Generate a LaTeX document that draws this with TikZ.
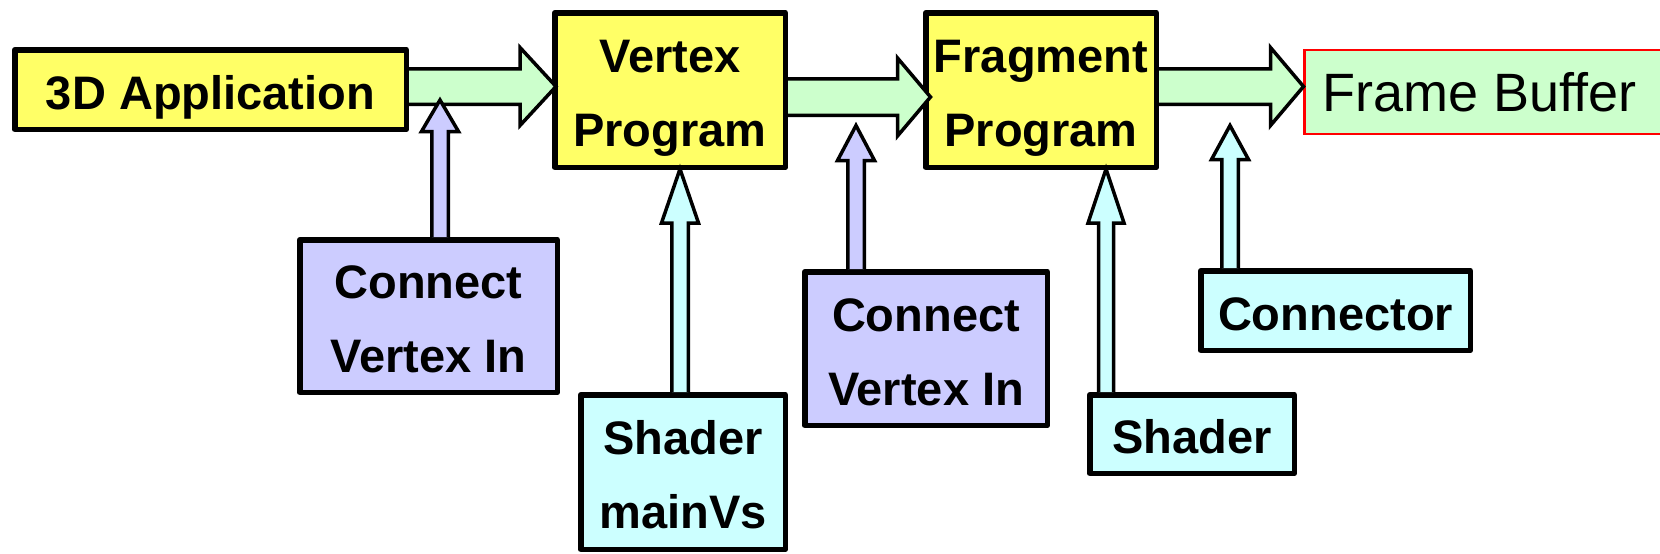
\documentclass[tikz,border=0pt]{standalone}
\usepackage{fontspec}
\setmainfont{Liberation Sans}
\usetikzlibrary{calc}

\definecolor{boxyellow}{HTML}{FFFF66}
\definecolor{boxlav}{HTML}{CCCCFF}
\definecolor{boxcyan}{HTML}{CCFFFF}
\definecolor{flowgreen}{HTML}{CCFFCC}

% invisible strut so that every label line has the same height and depth
\newcommand\lstrut{\rule[-11pt]{0pt}{61pt}}

% horizontal block arrow: colour, from, to, centre y, shaft half-width, head half-width, head length
\newcommand\hflow[7]{%
  \draw[blockarrow=#1] let \p1=(#2), \p2=(#3), \p3=(0,#4) in
    (\x1,\y3+#5) -- (\x2-#7,\y3+#5) -- (\x2-#7,\y3+#6) -- (\x2,\y3)
    -- (\x2-#7,\y3-#6) -- (\x2-#7,\y3-#5) -- (\x1,\y3-#5);}

% upward block arrow: colour, from, to, centre x, shaft half-width, head half-width, head length
\newcommand\vflow[7]{%
  \draw[blockarrow=#1] let \p1=(#2), \p2=(#3), \p3=(#4,0) in
    (\x3-#5,\y1) -- (\x3-#5,\y2-#7) -- (\x3-#6,\y2-#7) -- (\x3,\y2)
    -- (\x3+#6,\y2-#7) -- (\x3+#5,\y2-#7) -- (\x3+#5,\y1);}

\begin{document}
\begin{tikzpicture}[x=1pt,y=-1pt,
  box/.style={draw=black, line width=5.5pt, line join=round, inner sep=0pt,
    align=center, font=\fontsize{47}{74}\selectfont\bfseries},
  blockarrow/.style={draw=black, line width=3.5pt, fill=#1}]
\useasboundingbox (0,0) rectangle (1660,554);
\clip (0,0) rectangle (1660,554);
\fill[white] (0,0) rectangle (1660,554);

% pipeline stages
\node[box, fill=boxyellow, minimum width=391.5, minimum height=79.5] (app) at (210.5,89.5) {\lstrut 3D Application};
\node[box, fill=boxyellow, minimum width=230.5, minimum height=154.5] (vp) at (670,90) {\lstrut Vertex\\\lstrut Program};
\node[box, fill=boxyellow, minimum width=230.5, minimum height=154.5] (fp) at (1041,90) {\lstrut Fragment\\\lstrut Program};
\node[draw=red, line width=2.5pt, fill=flowgreen, anchor=west, minimum height=84, inner xsep=18, inner ysep=0,
  font=\fontsize{54}{64}\selectfont] (fb) at (1303,92) {\makebox[340pt][l]{Frame Buffer}};

% inputs below the pipeline
\node[box, fill=boxlav, minimum width=257.5, minimum height=152.5] (cvi1) at (428.5,316) {\lstrut Connect\\\lstrut Vertex In};
\node[box, fill=boxcyan, minimum width=204.5, minimum height=154.5] (svs) at (683,472) {\lstrut Shader\\\lstrut mainVs};
\node[box, fill=boxlav, minimum width=242.5, minimum height=153.5] (cvi2) at (926,348.5) {\lstrut Connect\\\lstrut Vertex In};
\node[box, fill=boxcyan, minimum width=204.5, minimum height=78.5] (sh) at (1192,434) {\lstrut Shader};
\node[box, fill=boxcyan, minimum width=269.5, minimum height=79.5] (con) at (1335.5,310.5) {\lstrut Connector};

% data flow along the pipeline
\hflow{flowgreen}{app.east}{$(vp.west)+(4,0)$}{86.5}{17.75pt}{39pt}{36pt}
\hflow{flowgreen}{vp.east}{$(fp.west)+(7.5,0)$}{97}{18.25pt}{39pt}{33pt}
\hflow{flowgreen}{fp.east}{$(fb.west)+(0.5,0)$}{86.5}{17.75pt}{39pt}{33pt}

% bindings feeding the stages
\coordinate (t1) at (440,100);
\coordinate (t3) at (856,125.5);
\coordinate (t5) at (1230,125.5);
\vflow{boxlav}{cvi1.north}{t1}{440}{8.25pt}{18.5pt}{31.5pt}
\vflow{boxcyan}{svs.north}{$(vp.south)+(0,-1)$}{680}{8.25pt}{18.5pt}{54pt}
\vflow{boxlav}{cvi2.north}{t3}{856}{8.25pt}{18.5pt}{35pt}
\vflow{boxcyan}{sh.north}{$(fp.south)+(0,-1)$}{1106}{7.5pt}{18pt}{54pt}
\vflow{boxcyan}{con.north}{t5}{1230}{8.25pt}{18.5pt}{34pt}
\end{tikzpicture}
\end{document}
